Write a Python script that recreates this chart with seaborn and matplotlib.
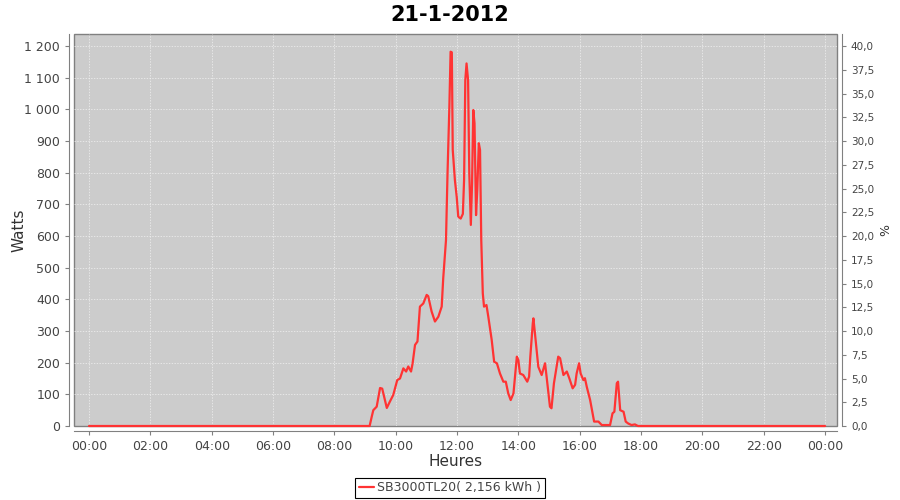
import numpy as np
import pandas as pd
import seaborn as sns
import matplotlib
matplotlib.use('Agg')
import matplotlib.pyplot as plt
from matplotlib.ticker import FuncFormatter

# données (heure décimale, puissance en W)
hours = [0.0, 9.15, 9.22, 9.27, 9.38, 9.49, 9.56, 9.71, 9.81, 9.92, 10.05, 10.14, 10.25, 10.34,
         10.41, 10.50, 10.55, 10.63, 10.71, 10.79, 10.90, 11.01, 11.06, 11.17, 11.28, 11.39,
         11.50, 11.55, 11.64, 11.69, 11.75, 11.79, 11.83, 11.86, 11.93, 11.99, 12.04, 12.12,
         12.19, 12.23, 12.27, 12.31, 12.36, 12.40, 12.45, 12.49, 12.53, 12.57, 12.62, 12.66,
         12.71, 12.75, 12.79, 12.84, 12.88, 12.96, 13.02, 13.13, 13.21, 13.30, 13.40, 13.51,
         13.59, 13.67, 13.75, 13.84, 13.95, 14.00, 14.05, 14.16, 14.29, 14.35, 14.39, 14.47,
         14.49, 14.54, 14.65, 14.76, 14.87, 14.92, 15.03, 15.08, 15.16, 15.30, 15.36, 15.47,
         15.58, 15.66, 15.77, 15.85, 15.90, 15.98, 16.03, 16.12, 16.17, 16.23, 16.34, 16.47,
         16.61, 16.72, 16.99, 17.07, 17.13, 17.21, 17.25, 17.32, 17.43, 17.50, 17.58, 17.69,
         17.80, 17.90, 24.0]
watts = [0, 0, 30, 50, 61, 120, 118, 57, 77, 98, 145, 150, 182, 172,
         188, 172, 197, 256, 267, 377, 387, 414, 410, 362, 330, 345,
         377, 467, 587, 798, 1008, 1182, 1180, 872, 777, 723, 661, 655,
         670, 777, 1093, 1145, 1093, 798, 635, 766, 998, 956, 666, 745,
         893, 872, 587, 419, 377, 382, 345, 272, 203, 198, 166, 140,
         140, 103, 82, 103, 219, 208, 166, 161, 140, 156, 219, 324,
         340, 293, 187, 161, 198, 156, 61, 56, 135, 219, 214, 161,
         172, 151, 119, 130, 166, 198, 166, 145, 151, 124, 82, 14,
         14, 3, 3, 40, 45, 135, 140, 50, 45, 14, 8, 3,
         5, 0, 0]
x_ticks = list(range(0, 25, 2))
x_labels = ['00:00', '02:00', '04:00', '06:00', '08:00', '10:00', '12:00',
            '14:00', '16:00', '18:00', '20:00', '22:00', '00:00']
serie = 'SB3000TL20( 2,156 kWh )'

df = pd.DataFrame({'heure': hours, 'watts': watts})

sns.set_style('ticks')
plt.rcParams['font.family'] = ['DejaVu Sans']

fig = plt.figure(figsize=(9, 5), dpi=100)
ax = fig.add_axes([74 / 900, 74 / 500, 763 / 900, 392 / 500])
ax.set_facecolor('#cccccc')
ax.patch.set_edgecolor('#808080')
ax.patch.set_linewidth(1)

sns.lineplot(data=df, x='heure', y='watts', ax=ax, color='#ff3333', linewidth=1.6,
             label=serie, legend=False)
for ln in ax.get_lines():
    ln.set_clip_on(False)
    ln.set_zorder(5)

ax.set_xlim(-0.49, 24.39)
ax.set_ylim(0, 1238)
ax.set_xticks(x_ticks)
ax.set_xticklabels(x_labels)
ax.set_yticks(range(0, 1201, 100))
ax.yaxis.set_major_formatter(FuncFormatter(lambda v, p: f'{int(v):,}'.replace(',', ' ')))
ax.grid(True, color='#f2f2f2', linestyle=(0, (2, 2)), linewidth=0.5)

for s in ['top', 'right']:
    ax.spines[s].set_visible(False)
for s in ['left', 'bottom']:
    ax.spines[s].set_position(('outward', 3.5))
    ax.spines[s].set_color('#808080')
ax.tick_params(colors='#808080', labelcolor='#444444', labelsize=9, length=3)
ax.set_xlabel('Heures', fontsize=11, color='#333333', labelpad=1)
ax.set_ylabel('Watts', fontsize=11, color='#333333')
ax.yaxis.set_label_coords(-0.062, 0.5)

ax2 = ax.twinx()
ax2.set_ylim(0, 1238 / 30)
ax2.set_yticks(np.arange(0, 40.1, 2.5))
ax2.yaxis.set_major_formatter(FuncFormatter(lambda v, p: f'{v:.1f}'.replace('.', ',')))
for s in ['top', 'left', 'bottom']:
    ax2.spines[s].set_visible(False)
ax2.spines['right'].set_position(('outward', 3.5))
ax2.spines['right'].set_color('#808080')
ax2.tick_params(colors='#808080', labelcolor='#444444', labelsize=7.5, length=3)
ax2.set_ylabel('%', fontsize=9, color='#333333')

fig.suptitle('21-1-2012', fontsize=15, fontweight='bold', color='black', y=0.99)

handles, labels = ax.get_legend_handles_labels()
leg = fig.legend(handles, labels, loc='center', bbox_to_anchor=(0.5, 0.024), fontsize=9,
                 frameon=True, fancybox=False, framealpha=1, edgecolor='black',
                 handlelength=1.2, handletextpad=0.3, borderpad=0.3)
leg.get_frame().set_linewidth(0.8)
for t in leg.get_texts():
    t.set_color('#444444')

fig.savefig('out.png', dpi=100)
